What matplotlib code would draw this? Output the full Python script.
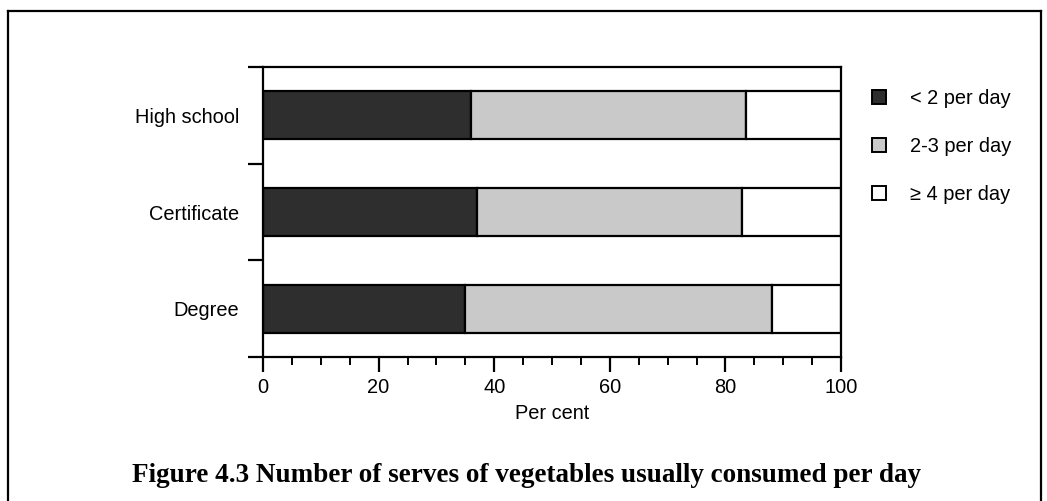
import matplotlib
matplotlib.use("Agg")
import matplotlib.pyplot as plt
from matplotlib.patches import Patch
from matplotlib.lines import Line2D
import numpy as np

# ---- data ----
categories = ["High school", "Certificate", "Degree"]
series_names = ["< 2 per day", "2-3 per day", "\u2265 4 per day"]
less_than_2 = [36.0, 37.0, 35.0]
two_to_3 = [47.5, 45.8, 53.0]
four_plus = [16.5, 17.2, 12.0]
x_ticks = [0, 20, 40, 60, 80, 100]
x_label = "Per cent"
title = "Figure 4.3 Number of serves of vegetables usually consumed per day"

W, H = 1047, 501
DPI = 100
fig = plt.figure(figsize=(W / DPI, H / DPI), dpi=DPI)
fig.patch.set_facecolor("white")

plt.rcParams["font.family"] = ["Liberation Sans", "DejaVu Sans"]
FS = 14.4

def fx(px):
    return px / W

def fy(py):
    return 1 - py / H

ax = fig.add_axes([fx(263), fy(357), fx(841) - fx(263), fy(67) - fy(357)])

colors = ["#2e2e2e", "#c9c9c9", "#ffffff"]
ypos = np.arange(len(categories))
series = [less_than_2, two_to_3, four_plus]
left = np.zeros(len(categories))
for vals, c in zip(series, colors):
    ax.barh(ypos, vals, left=left, height=0.5, color=c, edgecolor="black",
            linewidth=1.6, zorder=2)
    left = left + np.array(vals)

ax.set_xlim(0, 100)
ax.set_ylim(len(categories) - 0.5, -0.5)

ax.set_xticks(x_ticks)
ax.set_xticks(np.arange(0, 101, 5), minor=True)
ax.set_xticklabels([str(t) for t in x_ticks], fontsize=FS)
ax.tick_params(axis="x", which="major", length=11, width=1.6, pad=4,
               direction="out")
ax.tick_params(axis="x", which="minor", length=5.5, width=1.4,
               direction="out")

ax.set_yticks(ypos)
ax.set_yticklabels(categories, fontsize=FS)
ax.set_yticks(np.arange(-0.5, len(categories), 1.0), minor=True)
ax.tick_params(axis="y", which="major", length=0, pad=17)
ax.tick_params(axis="y", which="minor", length=11, width=1.6,
               direction="out")

ax.set_xlabel(x_label, fontsize=FS, labelpad=5)

for s in ax.spines.values():
    s.set_linewidth(1.6)
    s.set_color("black")

handles = [Patch(facecolor=c, edgecolor="black", linewidth=1.4) for c in colors]
ax.legend(handles, series_names, loc="upper left",
          bbox_to_anchor=(fx(872), fy(89)), bbox_transform=fig.transFigure,
          frameon=False, borderpad=0, borderaxespad=0, handlelength=0.7,
          handleheight=0.7, handletextpad=1.2, labelspacing=1.45, fontsize=FS)

# frame around the figure panel
lw_frame = 1.6
fig.add_artist(Line2D([fx(8), fx(8)], [fy(11), 0], transform=fig.transFigure,
                      color="black", linewidth=lw_frame))
fig.add_artist(Line2D([fx(8), fx(1041)], [fy(11), fy(11)],
                      transform=fig.transFigure, color="black",
                      linewidth=lw_frame))
fig.add_artist(Line2D([fx(1041), fx(1041)], [fy(11), 0],
                      transform=fig.transFigure, color="black",
                      linewidth=lw_frame))

# title, fitted to its width in the reference
t = fig.text(fx(526), fy(475), title, ha="center", va="center",
             fontsize=16, fontweight="bold", family=["Liberation Serif"])
fig.canvas.draw()
bb = t.get_window_extent(renderer=fig.canvas.get_renderer())
t.set_fontsize(16 * 792 / bb.width)

fig.savefig("out.png", dpi=DPI, facecolor="white")
